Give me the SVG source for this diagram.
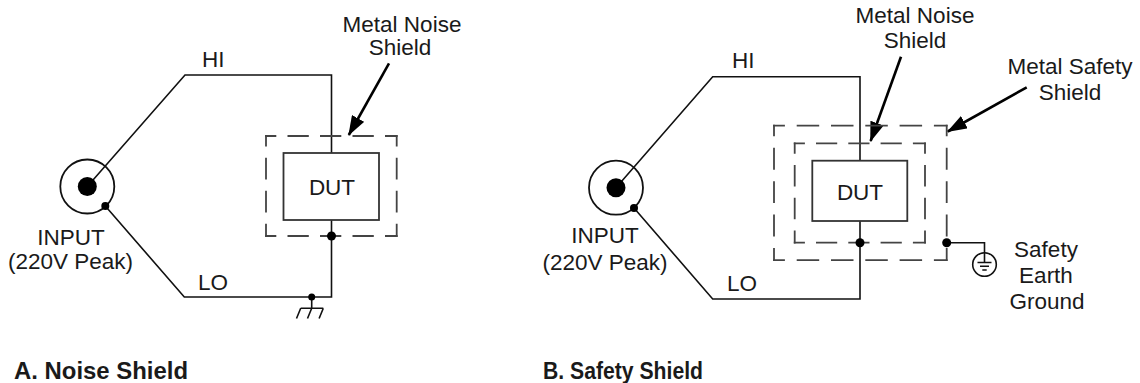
<svg xmlns="http://www.w3.org/2000/svg" width="1140" height="383" viewBox="0 0 1140 383">
<defs>
<marker id="ah" markerUnits="userSpaceOnUse" markerWidth="20" markerHeight="14" viewBox="0 0 20 14" refX="19" refY="7" orient="auto">
<path d="M0,0 L20,7 L0,14 Z" fill="#000"/>
</marker>
</defs>
<style>
.w{fill:none;stroke:#111;stroke-width:1.6}
.sh{fill:none;stroke:#444;stroke-width:1.8;stroke-linecap:square}
.box{fill:#fff;stroke:#333;stroke-width:1.8}
.dot{fill:#000}
.ar{fill:none;stroke:#000;stroke-width:2.6;marker-end:url(#ah)}
text{font-family:"Liberation Sans",Arial,sans-serif;font-size:22.5px;fill:#1a1a1a}
.c{text-anchor:middle}
.t{font-weight:bold;font-size:23px}
</style>
<rect width="1140" height="383" fill="#fff"/>

<!-- Panel A -->
<g id="connectorsA">
<path class="w" d="M87.3,186.5 L185,75 H331.5 V153"/>
<path class="w" d="M105.3,206 L184.3,297 H331.5 V220"/>
<path class="w" d="M311.7,297 V308.3 M300.7,308.3 H323.3 M300.7,308.3 L296.5,318.5 M311.7,308.3 L307.5,318.5 M323.3,308.3 L319.1,318.5"/>
<circle class="dot" cx="311.7" cy="297" r="3.5"/>
<path class="ar" d="M389,63.3 L348.8,135"/>
</g>
<g id="inputA">
<circle cx="87.3" cy="186.5" r="27" fill="none" stroke="#111" stroke-width="1.8"/>
<circle class="dot" cx="87.3" cy="186.5" r="9.5"/>
<circle class="dot" cx="105.3" cy="206" r="4"/>
<text class="c" x="71" y="245">INPUT</text>
<text class="c" x="70.5" y="269">(220V Peak)</text>
</g>
<g id="shieldA">
<path class="sh" d="M266,136 H396.7 M266,236 H396.7" stroke-dasharray="19.5 13" stroke-dashoffset="10.1"/>
<path class="sh" d="M266,136 V236 M396.7,136 V236" stroke-dasharray="19.9 13.1" stroke-dashoffset="10.3"/>
<circle class="dot" cx="331.5" cy="236" r="4.5"/>
</g>
<g id="dutA">
<rect class="box" x="283.5" y="153" width="95.5" height="67"/>
<text class="c" x="332" y="195" font-size="23">DUT</text>
</g>
<g id="labelsA">
<text x="202" y="67">HI</text>
<text x="198" y="290">LO</text>
<text class="c" x="402" y="31.7">Metal Noise</text>
<text class="c" x="400" y="55">Shield</text>
<text class="t" x="14" y="379" textLength="174" lengthAdjust="spacingAndGlyphs">A. Noise Shield</text>
</g>

<!-- Panel B -->
<g id="connectorsB">
<path class="w" d="M616,187.7 L712.7,76.7 H860 V160.7"/>
<path class="w" d="M634,208 L712.7,299 H860 V221"/>
<path class="w" d="M946.7,242.7 H984.5 V252.7"/>
<path class="ar" d="M901,56.7 L870.6,141"/>
<path class="ar" d="M1026.7,87.3 L947.8,131.5"/>
</g>
<g id="inputB">
<circle cx="616" cy="187.7" r="27" fill="none" stroke="#111" stroke-width="1.8"/>
<circle class="dot" cx="616" cy="187.7" r="9.5"/>
<circle class="dot" cx="634" cy="208" r="4"/>
<text class="c" x="605" y="243">INPUT</text>
<text class="c" x="605" y="270">(220V Peak)</text>
</g>
<g id="safetyShieldB">
<path class="sh" d="M774,125.7 H946.7 M774,260.2 H946.7" stroke-dasharray="20.7 13.6" stroke-dashoffset="10.7"/>
<path class="sh" d="M774,125.7 V260.2 M946.7,125.7 V260.2" stroke-dasharray="20.1 13.3" stroke-dashoffset="10.4"/>
<circle class="dot" cx="946.7" cy="242.7" r="4.5"/>
</g>
<g id="noiseShieldB">
<path class="sh" d="M794.7,143.3 H925 M794.7,242.7 H925" stroke-dasharray="19.4 12.9" stroke-dashoffset="10.1"/>
<path class="sh" d="M794.7,143.3 V242.7 M925,143.3 V242.7" stroke-dasharray="19.7 13.1" stroke-dashoffset="10.2"/>
<circle class="dot" cx="860" cy="242.7" r="4.5"/>
</g>
<g id="dutB">
<rect class="box" x="812.3" y="160.7" width="95" height="60.3"/>
<text class="c" x="860" y="200" font-size="23">DUT</text>
</g>
<g id="earthB">
<circle cx="984.5" cy="264.5" r="11.8" fill="#fff" stroke="#111" stroke-width="1.6"/>
<path class="w" d="M984.5,252.7 V262.5 M977.5,262.5 H991.5 M980,266.3 H989 M982.3,270 H986.7" stroke-width="1.3"/>
<text class="c" x="1046" y="256.7">Safety</text>
<text class="c" x="1046" y="283">Earth</text>
<text class="c" x="1047" y="309">Ground</text>
</g>
<g id="labelsB">
<text x="732" y="68">HI</text>
<text x="727" y="291">LO</text>
<text class="c" x="915" y="22.7">Metal Noise</text>
<text class="c" x="915" y="47.7">Shield</text>
<text class="c" x="1070" y="74">Metal Safety</text>
<text class="c" x="1070" y="100">Shield</text>
<text class="t" x="543" y="379" textLength="160" lengthAdjust="spacingAndGlyphs">B. Safety Shield</text>
</g>
</svg>
